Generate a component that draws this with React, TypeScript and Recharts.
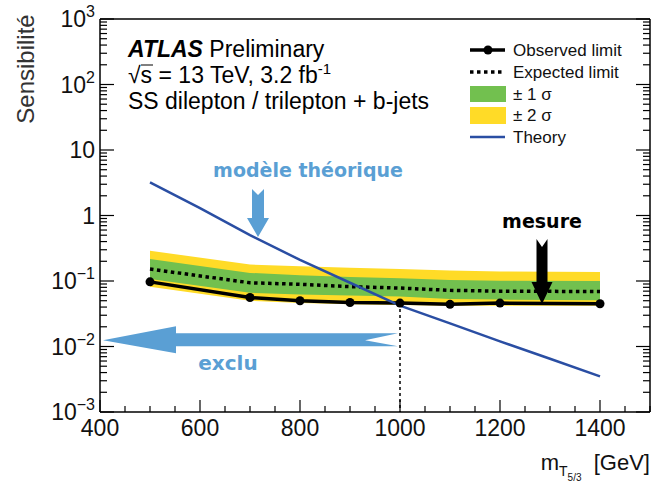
import React from 'react';
import { ComposedChart, Line, Area, XAxis, YAxis, ReferenceLine } from 'recharts';

// ---- data ----
const massPoints = [500, 700, 800, 900, 1000, 1100, 1200, 1400];
const observedLimit = [0.097, 0.056, 0.05, 0.047, 0.046, 0.044, 0.046, 0.045];
const expectedLimit = [0.152, 0.094, 0.089, 0.082, 0.078, 0.072, 0.07, 0.069];
const sigma1Low = [0.107, 0.066, 0.062, 0.06, 0.058, 0.053, 0.052, 0.051];
const sigma1High = [0.217, 0.133, 0.122, 0.115, 0.11, 0.104, 0.101, 0.1];
const sigma2Low = [0.082, 0.05, 0.046, 0.044, 0.043, 0.042, 0.042, 0.042];
const sigma2High = [0.29, 0.178, 0.168, 0.16, 0.152, 0.145, 0.14, 0.137];

const theoryMass = [500, 600, 700, 800, 900, 1000, 1100, 1200, 1300, 1400];
const theoryValues = [3.2, 1.3, 0.5, 0.21, 0.094, 0.042, 0.0225, 0.012, 0.0065, 0.0035];

const xTicks = [400, 450, 500, 550, 600, 650, 700, 750, 800, 850, 900, 950, 1000, 1050, 1100, 1150, 1200, 1250, 1300, 1350, 1400, 1450, 1500];
const xMajorTicks = [400, 600, 800, 1000, 1200, 1400];
const yDecades = [-3, -2, -1, 0, 1, 2, 3];

const yTicks: number[] = [];
yDecades.forEach((e) => {
  yTicks.push(Math.pow(10, e));
  if (e < 3) for (let m = 2; m <= 9; m++) yTicks.push(m * Math.pow(10, e));
});

const limitData = massPoints.map((m, i) => ({
  mass: m,
  observed: observedLimit[i],
  expected: expectedLimit[i],
  s1: [sigma1Low[i], sigma1High[i]],
  s2: [sigma2Low[i], sigma2High[i]],
}));
const theoryData = theoryMass.map((m, i) => ({ mass: m, theory: theoryValues[i] }));

// ---- layout ----
const W = 665;
const H = 484;
const PL = 100;
const PR = 650;
const PT = 19;
const PB = 412;
const M = { top: PT - 1, right: W - PR - 1, bottom: H - PB - 1, left: PL - 1 };
const px = (x: number) => PL + ((x - 400) / 1100) * (PR - PL);
const py = (v: number) => PT + ((3 - Math.log10(v)) / 6) * (PB - PT);

const SANS = '"Liberation Sans", Arial, Helvetica, sans-serif';
const BOLD = '"DejaVu Sans", Verdana, sans-serif';
const BLUE_ANN = '#5a9fd4';
const THEORY = '#2a4ea3';
const GREEN = '#72c04f';
const YELLOW = '#ffdb27';

const isMajorY = (v: number) => Math.abs(Math.log10(v) - Math.round(Math.log10(v))) < 1e-6;

const XTick = (props: any) => {
  const { x, y, payload, top } = props;
  const v = payload.value;
  const major = xMajorTicks.includes(v);
  const len = major ? 12 : 6;
  const dir = top ? 1 : -1;
  return (
    <g>
      <line x1={x} x2={x} y1={y} y2={y + dir * len} stroke="#000" strokeWidth={1.2} />
      {!top && major && (
        <text x={x} y={y + 24} textAnchor="middle" fontSize={23} fontFamily={SANS} fill="#111">
          {v}
        </text>
      )}
    </g>
  );
};

const YTick = (props: any) => {
  const { x, y, payload, right } = props;
  const v = payload.value;
  const major = isMajorY(v);
  const len = major ? 14 : 7;
  const dir = right ? -1 : 1;
  const e = Math.round(Math.log10(v));
  let label: React.ReactNode = null;
  if (!right && major) {
    if (e === 0) label = '1';
    else if (e === 1) label = '10';
    else
      label = (
        <>
          <tspan>10</tspan>
          <tspan dy={-10} fontSize={16}>
            {e < 0 ? '\u2212' + Math.abs(e) : String(e)}
          </tspan>
        </>
      );
  }
  return (
    <g>
      <line x1={x} x2={x + dir * len} y1={y} y2={y} stroke="#000" strokeWidth={1.2} />
      {label !== null && (
        <text x={x - 5} y={y + 8} textAnchor="end" fontSize={23} fontFamily={SANS} fill="#111">
          {label}
        </text>
      )}
    </g>
  );
};

const Overlay = () => {
  // exclusion arrow
  const exY = py(0.0125);
  const exTip = px(406);
  const exEnd = px(1000) - 2;
  const exHead = exTip + 73;
  const exclu = [
    [exTip, exY],
    [exHead, exY - 14],
    [exHead, exY - 7],
    [exEnd, exY - 7],
    [exEnd - 33, exY],
    [exEnd, exY + 6],
    [exHead, exY + 6],
    [exHead, exY + 13],
  ];
  const arrowDown = (cx: number, topY: number, headY: number, tipY: number, sw: number, hw: number, notch: number) =>
    [
      [cx - sw, topY],
      [cx, topY + notch],
      [cx + sw, topY],
      [cx + sw, headY],
      [cx + hw, headY],
      [cx, tipY],
      [cx - hw, headY],
      [cx - sw, headY],
    ]
      .map((p) => p.join(','))
      .join(' ');
  return (
    <svg
      width={W}
      height={H}
      style={{ position: 'absolute', left: 0, top: 0, pointerEvents: 'none' }}
    >
      {/* ATLAS label */}
      <text x={128} y={57} fontSize={23} fontFamily={SANS} fill="#000">
        <tspan fontWeight="bold" fontStyle="italic">ATLAS</tspan>
        <tspan> Preliminary</tspan>
      </text>
      <text x={128} y={83} fontSize={23} fontFamily={SANS} fill="#000">
        <tspan>{'\u221As = 13 TeV, 3.2 fb'}</tspan>
        <tspan dy={-9} fontSize={15}>-1</tspan>
      </text>
      <line x1={141} x2={153} y1={65} y2={65} stroke="#000" strokeWidth={1} />
      <text x={128} y={109} fontSize={23} fontFamily={SANS} fill="#000">
        SS dilepton / trilepton + b-jets
      </text>

      {/* legend */}
      <line x1={470} x2={505} y1={50} y2={50} stroke="#000" strokeWidth={3.5} />
      <circle cx={488} cy={50} r={4.5} fill="#000" />
      <text x={513} y={56} fontSize={17} fontFamily={SANS} fill="#111">Observed limit</text>
      <line x1={470} x2={505} y1={72} y2={72} stroke="#000" strokeWidth={3.5} strokeDasharray="3.5 3.5" />
      <text x={513} y={78} fontSize={17} fontFamily={SANS} fill="#111">Expected limit</text>
      <rect x={470} y={86} width={36} height={16} fill={GREEN} />
      <text x={513} y={100} fontSize={17} fontFamily={SANS} fill="#111">{'\u00b1 1 \u03c3'}</text>
      <rect x={470} y={107} width={36} height={17} fill={YELLOW} />
      <text x={513} y={121} fontSize={17} fontFamily={SANS} fill="#111">{'\u00b1 2 \u03c3'}</text>
      <line x1={470} x2={505} y1={137} y2={137} stroke={THEORY} strokeWidth={2.5} />
      <text x={513} y={143} fontSize={17} fontFamily={SANS} fill="#111">Theory</text>

      {/* annotations */}
      <text x={308} y={177} textAnchor="middle" fontSize={19} fontWeight="bold" fontFamily={BOLD} fill={BLUE_ANN}>
        modèle théorique
      </text>
      <polygon points={arrowDown(258, 189, 218, 237, 6, 11, 6)} fill={BLUE_ANN} />
      <text x={542} y={228} textAnchor="middle" fontSize={19} fontWeight="bold" fontFamily={BOLD} fill="#000">
        mesure
      </text>
      <polygon points={arrowDown(542, 239, 282, 304, 5.5, 10.5, 8)} fill="#000" />
      <polygon points={exclu.map((p) => p.join(',')).join(' ')} fill={BLUE_ANN} />
      <text x={228} y={370} textAnchor="middle" fontSize={20} fontWeight="bold" fontFamily={BOLD} fill={BLUE_ANN}>
        exclu
      </text>

      {/* axis titles */}
      <text transform={`translate(34, 69) rotate(-90)`} textAnchor="middle" fontSize={24} fontFamily={SANS} fill="#333">
        Sensibilité
      </text>
      <text x={PR} y={470} textAnchor="end" fontSize={22} fontFamily={SANS} fill="#111">
        <tspan>m</tspan>
        <tspan dy={6} fontSize={14}>T</tspan>
        <tspan dy={5} fontSize={10}>5/3</tspan>
        <tspan dy={-11} fontSize={22}>{'\u00a0 [GeV]'}</tspan>
      </text>
    </svg>
  );
};

export default function App() {
  return (
    <div style={{ position: 'absolute', left: 0, top: 0, width: W, height: H, background: '#fff' }}>
      <ComposedChart width={W} height={H} margin={M}>
        <XAxis
          xAxisId={0}
          dataKey="mass"
          type="number"
          domain={[400, 1500]}
          ticks={xTicks}
          interval={0}
          allowDataOverflow
          height={1}
          tickSize={0}
          tickMargin={0}
          tickLine={false}
          axisLine={{ stroke: '#000', strokeWidth: 1.5 }}
          tick={(p: any) => <XTick {...p} />}
        />
        <XAxis
          xAxisId="top"
          orientation="top"
          type="number"
          domain={[400, 1500]}
          ticks={xTicks}
          interval={0}
          allowDataOverflow
          height={1}
          tickSize={0}
          tickMargin={0}
          tickLine={false}
          axisLine={{ stroke: '#000', strokeWidth: 1.5 }}
          tick={(p: any) => <XTick {...p} top />}
        />
        <YAxis
          yAxisId={0}
          scale="log"
          type="number"
          domain={[0.001, 1000]}
          ticks={yTicks}
          interval={0}
          allowDataOverflow
          width={1}
          tickSize={0}
          tickMargin={0}
          tickLine={false}
          axisLine={{ stroke: '#000', strokeWidth: 1.5 }}
          tick={(p: any) => <YTick {...p} />}
        />
        <YAxis
          yAxisId="right"
          orientation="right"
          scale="log"
          type="number"
          domain={[0.001, 1000]}
          ticks={yTicks}
          interval={0}
          allowDataOverflow
          width={1}
          tickSize={0}
          tickMargin={0}
          tickLine={false}
          axisLine={{ stroke: '#000', strokeWidth: 1.5 }}
          tick={(p: any) => <YTick {...p} right />}
        />
        <Area data={limitData} dataKey="s2" type="linear" fill={YELLOW} fillOpacity={1} stroke="none" isAnimationActive={false} />
        <Area data={limitData} dataKey="s1" type="linear" fill={GREEN} fillOpacity={1} stroke="none" isAnimationActive={false} />
        <ReferenceLine
          segment={[
            { x: massPoints[4], y: observedLimit[4] },
            { x: massPoints[4], y: 0.001 },
          ]}
          stroke="#000"
          strokeWidth={1.5}
          strokeDasharray="3 3"
        />
        <Line data={limitData} dataKey="expected" type="linear" stroke="#000" strokeWidth={3.5} strokeDasharray="3.5 3.5" dot={false} isAnimationActive={false} />
        <Line data={limitData} dataKey="observed" type="linear" stroke="#000" strokeWidth={3.5} dot={{ r: 4.5, fill: '#000', stroke: '#000', strokeWidth: 0 }} isAnimationActive={false} />
        <Line data={theoryData} dataKey="theory" type="linear" stroke={THEORY} strokeWidth={2.5} dot={false} isAnimationActive={false} />
      </ComposedChart>
      <Overlay />
    </div>
  );
}
